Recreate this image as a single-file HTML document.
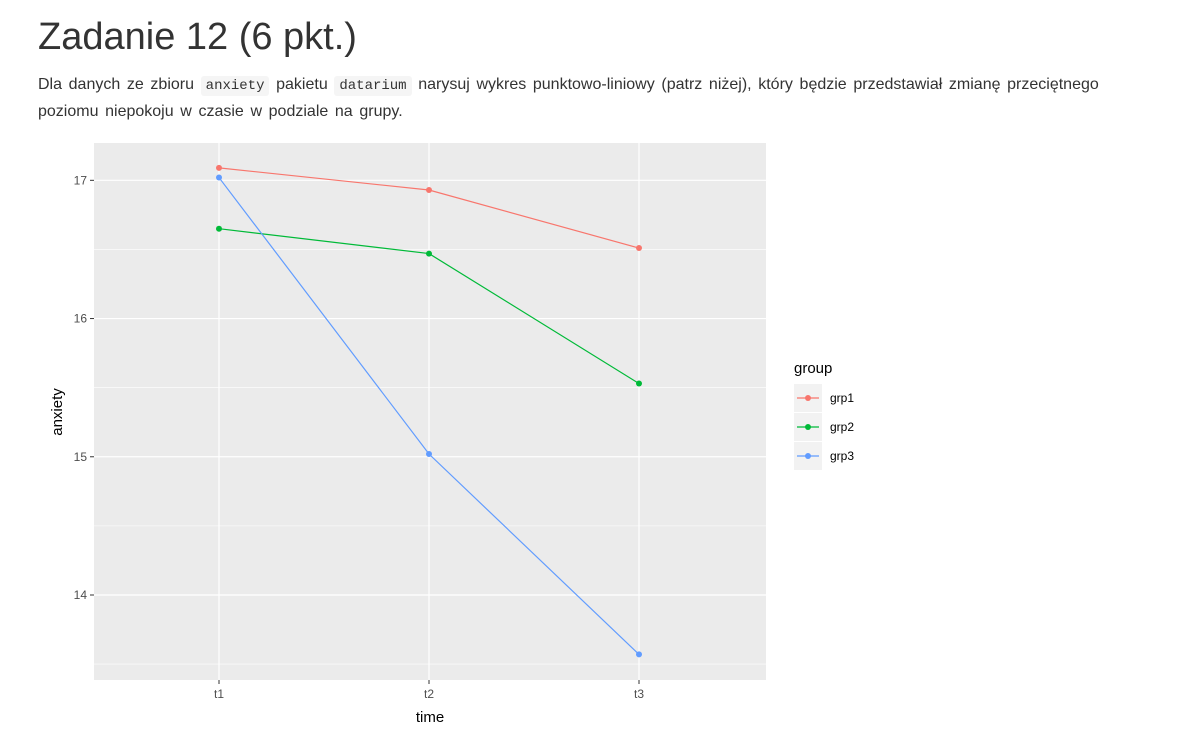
<!DOCTYPE html>
<html><head><meta charset="utf-8"><style>
body{margin:0;background:#fff;width:1192px;height:740px;overflow:hidden;font-family:"Liberation Sans",sans-serif;color:#333}
h1{position:absolute;left:38px;top:16px;margin:0;font-weight:400;font-size:38px;color:#333}
p{position:absolute;left:38px;top:72px;margin:0;width:1125px;font-size:16px;line-height:25px;word-spacing:2.2px}
code{font-family:"Liberation Mono",monospace;font-size:14px;background:#f5f5f5;padding:2px 5px;border-radius:3px;word-spacing:0}
svg{position:absolute;left:0;top:0}
</style></head><body>
<h1>Zadanie 12 (6 pkt.)</h1>
<p>Dla danych ze zbioru <code>anxiety</code> pakietu <code>datarium</code> narysuj wykres punktowo-liniowy (patrz niżej), który będzie przedstawiał zmianę przeciętnego poziomu niepokoju w czasie w podziale na grupy.</p>
<svg id="chart" width="1192" height="740"></svg>
<script>
const categories=["t1","t2","t3"];
const grp1=[17.09,16.93,16.51];
const grp2=[16.65,16.47,15.53];
const grp3=[17.02,15.02,13.57];
const yTicks=[14,15,16,17];
const yMinor=[13.5,14.5,15.5,16.5];
const seriesNames=["grp1","grp2","grp3"];
const colors=["#F8766D","#00BA38","#619CFF"];
const P={l:94,r:766,t:143,b:680};
const yMin=13.385,yMax=17.27;
const x=i=>219+i*210;
const y=v=>P.b-(v-yMin)/(yMax-yMin)*(P.b-P.t);
const svg=document.getElementById('chart');const NS="http://www.w3.org/2000/svg";
function mk(t,a,txt){const e=document.createElementNS(NS,t);for(const k in a)e.setAttribute(k,a[k]);if(txt!=null)e.textContent=txt;svg.appendChild(e);return e;}
let e=mk('rect',{x:P.l,y:P.t,width:P.r-P.l,height:P.b-P.t,fill:'#EBEBEB'});


yMinor.forEach(v=>{const g=mk('line',{x1:P.l,x2:P.r,y1:y(v),y2:y(v),stroke:'#fff','stroke-width':0.6});

});
yTicks.forEach(v=>{const g=mk('line',{x1:P.l,x2:P.r,y1:y(v),y2:y(v),stroke:'#fff','stroke-width':1.2});


const t=mk('text',{x:87,y:y(v)+4,'text-anchor':'end','font-size':12,fill:'#4D4D4D'},v);


mk('line',{x1:90,x2:P.l,y1:y(v),y2:y(v),stroke:'#333'});});
categories.forEach((c,i)=>{const g=mk('line',{x1:x(i),x2:x(i),y1:P.t,y2:P.b,stroke:'#fff','stroke-width':1.2});


mk('line',{x1:x(i),x2:x(i),y1:P.b,y2:P.b+4,stroke:'#333'});
const t=mk('text',{x:x(i),y:P.b+18,'text-anchor':'middle','font-size':12,fill:'#4D4D4D'},c);

});
[grp1,grp2,grp3].forEach((s,k)=>{const l=mk('polyline',{points:s.map((v,i)=>x(i)+','+y(v)).join(' '),fill:'none',stroke:colors[k],'stroke-width':1.2});


s.forEach((v,i)=>{const c=mk('circle',{cx:x(i),cy:y(v),r:3,fill:colors[k]});

});});
e=mk('text',{x:430,y:722,'text-anchor':'middle','font-size':15,fill:'#000'},'time');


e=mk('text',{x:62,y:412,'text-anchor':'middle','font-size':15,fill:'#000',transform:'rotate(-90 62 412)'},'anxiety');


e=mk('text',{x:794,y:373,'font-size':15,fill:'#000'},'group');


seriesNames.forEach((n,k)=>{const yy=398+k*29;
mk('rect',{x:794,y:yy-14,width:28,height:28,fill:'#F2F2F2'});
mk('line',{x1:797,x2:819,y1:yy,y2:yy,stroke:colors[k],'stroke-width':1.2});
mk('circle',{cx:808,cy:yy,r:3,fill:colors[k]});
const t=mk('text',{x:830,y:yy+4,'font-size':12,fill:'#000'},n);

});
</script>
</body></html>
